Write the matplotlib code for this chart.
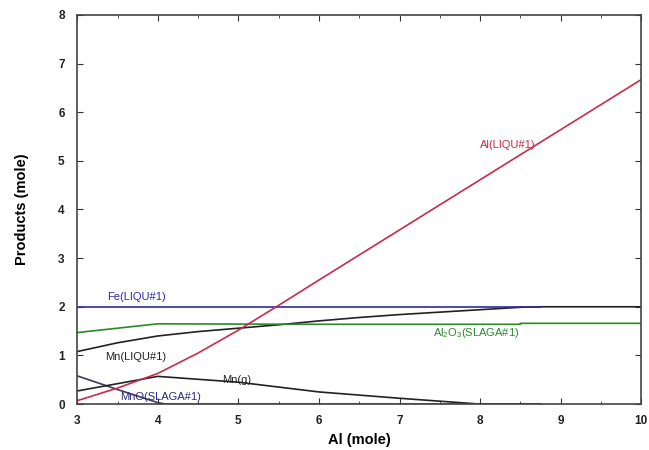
import matplotlib
matplotlib.use("Agg")
import matplotlib.pyplot as plt
from matplotlib.ticker import MultipleLocator

plt.rcParams["font.family"] = ["Liberation Sans", "DejaVu Sans"]
plt.rcParams["mathtext.default"] = "regular"

# ====================== DADOS ======================
al_x = [3.0, 3.5, 4.0, 4.5, 5.0, 5.5, 6.0, 7.0, 8.0, 9.0, 10.0]
al_liq = [0.07, 0.33, 0.63, 1.05, 1.52, 2.03, 2.55, 3.58, 4.61, 5.64, 6.67]

fe_x = [3.0, 8.75]
fe_liq = [2.0, 2.0]

al2o3_x = [3.0, 3.5, 4.0, 6.0, 8.5, 8.5, 10.0]
al2o3_slag = [1.47, 1.56, 1.65, 1.64, 1.64, 1.66, 1.66]

mn_x = [3.0, 3.5, 4.0, 4.5, 5.0, 5.5, 6.0, 6.5, 7.0, 7.5, 8.0, 8.5, 8.75, 10.0]
mn_liq = [1.08, 1.26, 1.40, 1.49, 1.56, 1.63, 1.71, 1.78, 1.84, 1.89, 1.94, 1.99, 2.0, 2.0]

mng_x = [3.0, 3.5, 4.0, 5.0, 6.0, 7.0, 8.0, 8.75]
mn_gas = [0.27, 0.42, 0.57, 0.45, 0.25, 0.12, 0.0, 0.0]

mno_x = [3.0, 3.5, 4.0, 4.1, 6.0, 8.75]
mno_slag = [0.58, 0.30, 0.03, 0.0, 0.0, 0.0]

RED = "#cc2a4a"
BLUE = "#2a2aa8"
GREEN = "#2a8a2a"
BLACK = "#222222"
NAVY = "#2a2a80"

# ====================== PLOT ======================
fig = plt.figure(figsize=(6.49, 4.5), dpi=100)
ax = fig.add_axes([0.119, 0.102, 0.869, 0.865])

ax.plot(mno_x, mno_slag, color="#3a3a5a", lw=1.2)
ax.plot(mng_x, mn_gas, color=BLACK, lw=1.2)
ax.plot(mn_x, mn_liq, color=BLACK, lw=1.2)
ax.plot(al2o3_x, al2o3_slag, color=GREEN, lw=1.2)
ax.plot(fe_x, fe_liq, color=BLUE, lw=1.2)
ax.plot(al_x, al_liq, color=RED, lw=1.2)

fs = 8
ax.text(8.34, 5.33, "Al(LIQU#1)", color=RED, fontsize=fs, ha="center", va="center")
ax.text(3.74, 2.2, "Fe(LIQU#1)", color=BLUE, fontsize=fs, ha="center", va="center")
ax.text(7.95, 1.46, "Al$_2$O$_3$(SLAGA#1)", color=GREEN, fontsize=fs, ha="center", va="center")
ax.text(3.73, 0.97, "Mn(LIQU#1)", color=BLACK, fontsize=fs, ha="center", va="center")
ax.text(4.98, 0.5, "Mn(g)", color=BLACK, fontsize=fs, ha="center", va="center")
ax.text(4.04, 0.14, "MnO(SLAGA#1)", color=NAVY, fontsize=fs, ha="center", va="center")

ax.set_xlim(3, 10)
ax.set_ylim(0, 8)
ax.xaxis.set_major_locator(MultipleLocator(1))
ax.xaxis.set_minor_locator(MultipleLocator(0.5))
ax.yaxis.set_major_locator(MultipleLocator(1))
ax.tick_params(which="both", direction="in", top=True, right=True, colors="#333333")
ax.tick_params(which="major", length=4, labelsize=8.5)
ax.tick_params(axis="x", which="major", pad=8)
ax.tick_params(axis="y", which="major", pad=9)
ax.tick_params(which="minor", length=2)
for lab in ax.get_xticklabels() + ax.get_yticklabels():
    lab.set_fontweight("bold")
    lab.set_color("#222222")
for sp in ax.spines.values():
    sp.set_color("#444444")
    sp.set_linewidth(1.2)

ax.set_xlabel("Al (mole)", fontsize=10.5, fontweight="bold", labelpad=4)
ax.set_ylabel("Products (mole)", fontsize=10.5, fontweight="bold", labelpad=21)

fig.savefig("out.png", dpi=100)
